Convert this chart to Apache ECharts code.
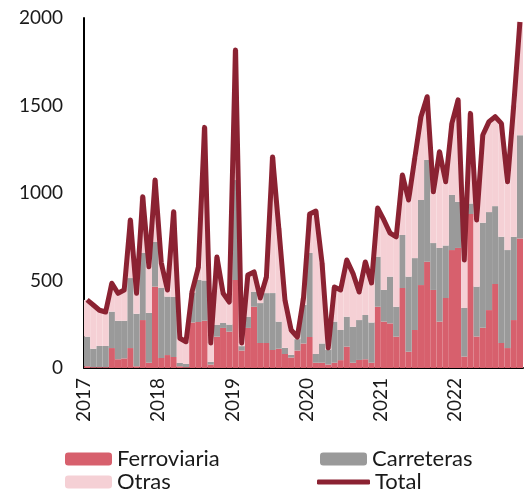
<!DOCTYPE html>
<html>
<head>
<meta charset="utf-8">
<script src="https://cdn.jsdelivr.net/npm/echarts@6/dist/echarts.min.js"></script>
<style>
  html, body { margin: 0; padding: 0; background: #fff; }
  #chart { width: 524px; height: 492px; }
</style>
</head>
<body>
<div id="chart"></div>
<script>
// meses ene-2017 .. nov-2022
var months = [];
for (var y = 2017; y <= 2022; y++) {
    for (var m = 1; m <= 12; m++) {
        if (y === 2022 && m === 12) break;
        months.push(y + '-' + (m < 10 ? '0' + m : m));
    }
}

var ferroviaria = [
    10, 5, 5, 5, 114, 50, 55, 114, 10, 274, 30, 465,
    57, 74, 63, 10, 5, 260, 263, 270, 20, 179, 229, 208,
    503, 100, 229, 350, 143, 143, 103, 110, 80, 60, 100, 140,
    177, 30, 30, 20, 30, 45, 122, 30, 46, 50, 30, 350,
    265, 255, 179, 457, 93, 217, 474, 607, 446, 265, 400, 674,
    686, 65, 880, 180, 230, 331, 480, 143, 114, 274, 740
];
var carreteras = [
    169, 105, 121, 121, 208, 220, 215, 400, 300, 383, 285, 255,
    400, 334, 343, 19, 18, 170, 240, 230, 15, 67, 28, 40,
    571, 25, 64, 86, 228, 285, 325, 155, 35, 15, 65, 220,
    480, 50, 110, 85, 235, 172, 171, 206, 228, 253, 230, 286,
    181, 267, 171, 303, 429, 411, 486, 582, 268, 421, 300, 315,
    264, 278, 60, 285, 600, 560, 445, 607, 560, 476, 590
];
var otras = [
    210, 250, 204, 194, 162, 157, 176, 332, 117, 322, 264, 354,
    143, 38, 487, 141, 127, 10, 74, 875, 108, 388, 170, 129,
    743, 18, 238, 113, 29, 92, 778, 535, 274, 142, 12, 40,
    223, 817, 460, 10, 198, 229, 324, 305, 160, 303, 226, 278,
    400, 249, 400, 343, 438, 572, 476, 361, 293, 550, 364, 409,
    582, 274, 515, 381, 501, 517, 511, 648, 390, 750, 647
];
var total = [
    389, 360, 330, 320, 484, 427, 446, 846, 427, 979, 579, 1074,
    600, 446, 893, 170, 150, 440, 577, 1375, 143, 634, 427, 377,
    1817, 143, 531, 549, 400, 520, 1206, 800, 389, 217, 177, 400,
    880, 897, 600, 115, 463, 446, 617, 541, 434, 606, 486, 914,
    846, 771, 750, 1103, 960, 1200, 1436, 1550, 1007, 1236, 1064, 1398,
    1532, 617, 1455, 846, 1331, 1408, 1436, 1398, 1064, 1500, 1977
];
var yearTicks = [2017, 2018, 2019, 2020, 2021, 2022];

var chart = echarts.init(document.getElementById('chart'));
var font = 'Lato';
var legendText = { fontFamily: font, fontSize: 22, color: '#1a1a1a' };

function leg(name, left, top, w, h, icon) {
    var l = {
        left: left, top: top, itemWidth: w, itemHeight: h,
        textStyle: legendText, data: [name]
    };
    if (icon) l.icon = icon;
    return l;
}

var option = {
    animation: false,
    textStyle: { fontFamily: font },
    grid: { left: 84, right: 1, top: 18, bottom: 124 },
    legend: [
        leg('Ferroviaria', 60, 443, 47, 13),
        leg('Carreteras', 315, 443, 47, 13),
        leg('Otras', 60, 466, 47, 13),
        leg('Total', 312, 466, 53, 5, 'roundRect')
    ],
    xAxis: [
        {
            type: 'category',
            data: months,
            boundaryGap: true,
            axisLine: { lineStyle: { color: '#000', width: 2 } },
            axisTick: { show: false },
            axisLabel: { show: false }
        },
        {
            type: 'value',
            position: 'bottom',
            min: 0, max: months.length, interval: 12,
            axisLine: { show: false },
            axisTick: { show: false },
            splitLine: { show: false },
            axisLabel: {
                rotate: 90, margin: 10, fontSize: 19, color: '#1a1a1a',
                showMaxLabel: false,
                formatter: function (v) { return yearTicks[v / 12]; }
            }
        }
    ],
    yAxis: {
        type: 'value', min: 0, max: 2000, interval: 500,
        axisLine: { show: true, lineStyle: { color: '#000', width: 2 } },
        axisTick: { show: false },
        splitLine: { show: false },
        axisLabel: {
            fontSize: 19, color: '#1a1a1a', margin: 21,
            formatter: function (v) { return String(v); }
        }
    },
    series: [
        { name: 'Ferroviaria', type: 'bar', stack: 'a', barCategoryGap: '0%', itemStyle: { color: '#d7606d' }, data: ferroviaria },
        { name: 'Carreteras', type: 'bar', stack: 'a', barCategoryGap: '0%', itemStyle: { color: '#9a9a9a' }, data: carreteras },
        { name: 'Otras', type: 'bar', stack: 'a', barCategoryGap: '0%', itemStyle: { color: '#f5d0d5' }, data: otras },
        {
            name: 'Total', type: 'line', symbol: 'none', z: 5,
            itemStyle: { color: '#8b2232' },
            lineStyle: { color: '#8b2232', width: 5, join: 'round' },
            data: total
        }
    ]
};

chart.setOption(option);
</script>
</body>
</html>
